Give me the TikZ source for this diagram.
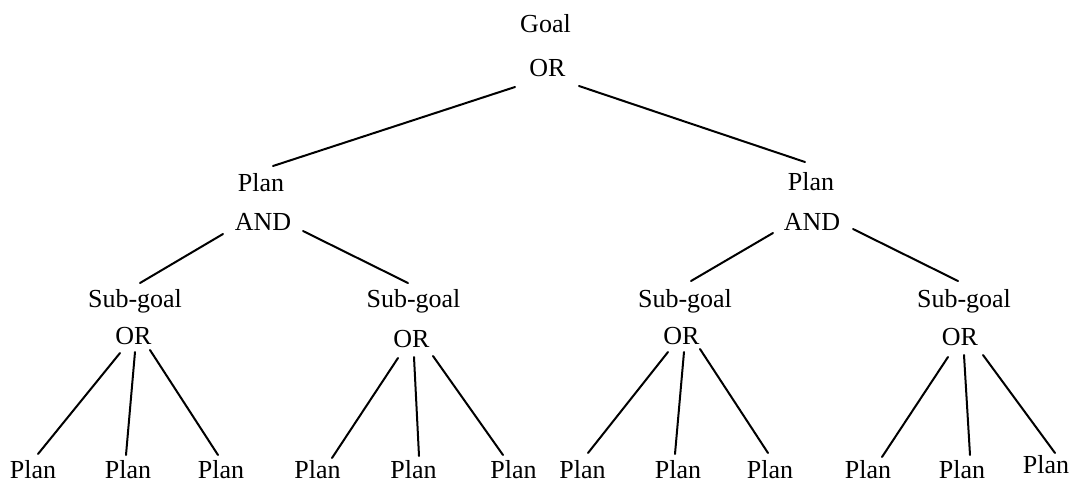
\documentclass[tikz,border=0pt]{standalone}
\usepackage{fontspec}
\setmainfont{Liberation Serif}
\usetikzlibrary{calc}
\newcommand{\cn}[6]{\draw[edge] ($(#1.base)+(#2,#3)$) -- ($(#4.base)+(#5,#6)$);}
\begin{document}
\begin{tikzpicture}[x=1pt,y=-1pt,
  lbl/.style={anchor=base, inner sep=0pt, font=\fontsize{26}{31}\selectfont},
  edge/.style={line width=2pt, line cap=round}]
\useasboundingbox (0,0) rectangle (1074,488);
% level 0
\node[lbl] (goal) at (545.5,32) {Goal};
\node[lbl] (or0) at (547.5,76) {OR};
% level 1
\node[lbl] (pl) at (261,191) {Plan};
\node[lbl] (andl) at (263,230) {AND};
\node[lbl] (pr) at (811,190) {Plan};
\node[lbl] (andr) at (812,230) {AND};
% level 2
\node[lbl] (sg1) at (135,307) {Sub-goal};
\node[lbl] (or1) at (133.5,344) {OR};
\node[lbl] (sg2) at (413.5,307) {Sub-goal};
\node[lbl] (or2) at (411.5,347) {OR};
\node[lbl] (sg3) at (685,307) {Sub-goal};
\node[lbl] (or3) at (681.5,344) {OR};
\node[lbl] (sg4) at (964,307) {Sub-goal};
\node[lbl] (or4) at (960,345) {OR};
% leaves
\node[lbl] (l11) at (33,478) {Plan};
\node[lbl] (l12) at (128,478) {Plan};
\node[lbl] (l13) at (221,478) {Plan};
\node[lbl] (l21) at (317.5,478) {Plan};
\node[lbl] (l22) at (413.5,478) {Plan};
\node[lbl] (l23) at (513.5,478) {Plan};
\node[lbl] (l31) at (582.5,478) {Plan};
\node[lbl] (l32) at (678,478) {Plan};
\node[lbl] (l33) at (770,478) {Plan};
\node[lbl] (l41) at (868,478) {Plan};
\node[lbl] (l42) at (962,478) {Plan};
\node[lbl] (l43) at (1046,473) {Plan};
% connectors
\cn{or0}{-32.5}{11}{pl}{12}{-25}
\cn{or0}{31.5}{10}{pr}{-6}{-28}
\cn{andl}{-40}{4}{sg1}{5}{-24}
\cn{andl}{40}{1}{sg2}{-5.5}{-24}
\cn{andr}{-39}{3}{sg3}{6}{-26}
\cn{andr}{41}{-1}{sg4}{-6}{-26}
\cn{or1}{-13.5}{9}{l11}{5}{-24}
\cn{or1}{1.5}{8}{l12}{-2}{-23}
\cn{or1}{16.5}{6}{l13}{-3}{-23}
\cn{or2}{-13.5}{11}{l21}{14.5}{-20}
\cn{or2}{2.5}{10}{l22}{5.5}{-22}
\cn{or2}{21.5}{9}{l23}{-10.5}{-23}
\cn{or3}{-13.5}{8}{l31}{5.5}{-25}
\cn{or3}{2.5}{8}{l32}{-3}{-24}
\cn{or3}{18.5}{5}{l33}{-2}{-25}
\cn{or4}{-12}{12}{l41}{14}{-21}
\cn{or4}{4}{10}{l42}{8}{-23}
\cn{or4}{23}{10}{l43}{9}{-20}
\end{tikzpicture}
\end{document}
